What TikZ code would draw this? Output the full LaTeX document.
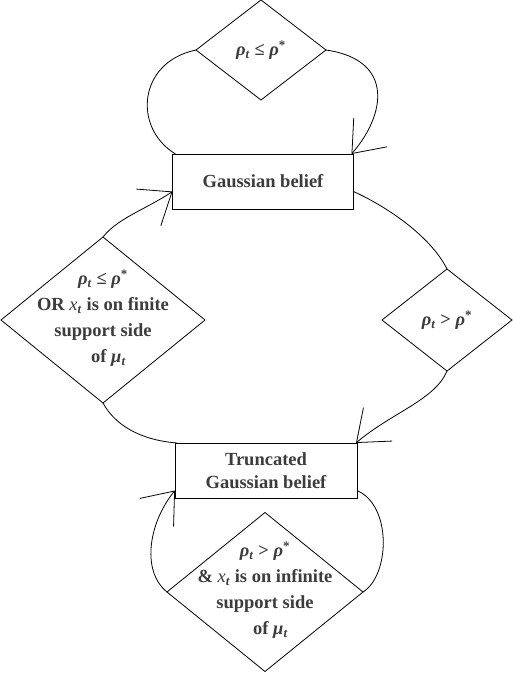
\documentclass[tikz,border=0pt]{standalone}
\usepackage{fontspec}
\setmainfont{Liberation Serif}
\usepackage{xcolor}
\definecolor{beliefgray}{RGB}{60,60,60}
\usetikzlibrary{positioning, arrows.meta, shapes.geometric}
\newcommand{\rhot}{\textit{ρ}\textsubscript{\textit{t}}}
\newcommand{\rhostar}{\textit{ρ}\textsuperscript{*}}
\newcommand{\xt}{{\mdseries\itshape x}\textsubscript{\textit{t}}}
\newcommand{\mut}{\textit{μ}\textsubscript{\textit{t}}}

\begin{document}
\begin{tikzpicture}[
    % GLOBAL CFG
    x=1pt, y=-1pt,
    font=\fontsize{18.5}{26}\selectfont\bfseries,
    >={Straight Barb[length=28pt,width=44pt]},
    % Styles
    state/.style={% For the belief boxes
        rectangle,
        draw,
        line width=0.8pt,
        minimum width=181pt,
        minimum height=55pt,
        inner sep=0pt,
        outer sep=0pt,
        align=center,
        text=beliefgray,
        font=\fontsize{18.5}{23}\selectfont\bfseries,
        },
    cond/.style={% For the switching conditions
        diamond,
        draw,
        line width=0.8pt,
        inner sep=0pt,
        outer sep=0pt,
        },
    condtext/.style={% Text that sits in a condition
        align=center,
        text=beliefgray,
        inner sep=0pt,
        },
    ArrowC/.style={% Curved transitions
        line width=0.8pt,
        },
    ]

%Start drawing the thing...
    \useasboundingbox (0,0) rectangle (512,674);

    % Draw the beliefs
    \node [state] (gauss) at (263,181.5) {Gaussian belief};
    \node [state, minimum width=182pt] (trunc) at (266,470.5) {Truncated\\Gaussian belief};

    % Draw the conditions named c#
    \node [cond, minimum width=130pt, minimum height=100pt] (cstay) at (261,50) {};
    \node [cond, minimum width=204pt, minimum height=166pt] (cback) at (103,320) {};
    \node [cond, minimum width=130pt, minimum height=102pt] (ctrunc) at (447,320) {};
    \node [cond, minimum width=196pt, minimum height=159pt] (cloop) at (265,592) {};

    % Texts of the conditions
    \node [condtext] (cstaytxt) at (cstay) {\rhot{} ≤ \rhostar};
    \node [condtext] (cbacktxt) at (103,318) {\rhot{} ≤ \rhostar\\OR \xt{} is on finite\\support side\\\hspace{0.6em}of \mut};
    \node [condtext] (ctrunctxt) at (ctrunc) {\rhot{} > \rhostar};
    \node [condtext] (clooptxt) at (265,590) {\rhot{} > \rhostar\\\& \xt{} is on infinite\\support side\\\hspace{0.6em}of \mut};

% Start connecting all.
    % Loop on the Gaussian belief
    \draw [ArrowC] ([xshift=3pt]gauss.north west) .. controls +(-43,-26) and +(-58,12) .. (cstay.west);
    \draw [->, ArrowC] (cstay.east) .. controls +(69,10) and +(34,-39) .. ([xshift=-2pt]gauss.north east);

    % Gaussian to truncated
    \draw [ArrowC] ([yshift=-10pt]gauss.east) .. controls +(31,14) and +(-17,-34) .. (ctrunc.north);
    \draw [->, ArrowC] (ctrunc.south) .. controls +(-12,29) and +(35,-30) .. ([xshift=-1pt]trunc.north east);

    % Truncated back to Gaussian
    \draw [ArrowC] (cback.south) .. controls +(12,22) and +(-37,-3) .. ([xshift=2pt]trunc.north west);
    \draw [->, ArrowC] (cback.north) .. controls +(15,-19) and +(-27,18) .. ([yshift=-10pt]gauss.west);

    % Loop on the truncated belief
    \draw [ArrowC] ([yshift=-20pt]trunc.east) .. controls +(35,15) and +(27,-17) .. (cloop.east);
    \draw [->, ArrowC] (cloop.west) .. controls +(-27,-22) and +(-25,30) .. ([yshift=-20pt]trunc.west);

\end{tikzpicture}
\end{document}
